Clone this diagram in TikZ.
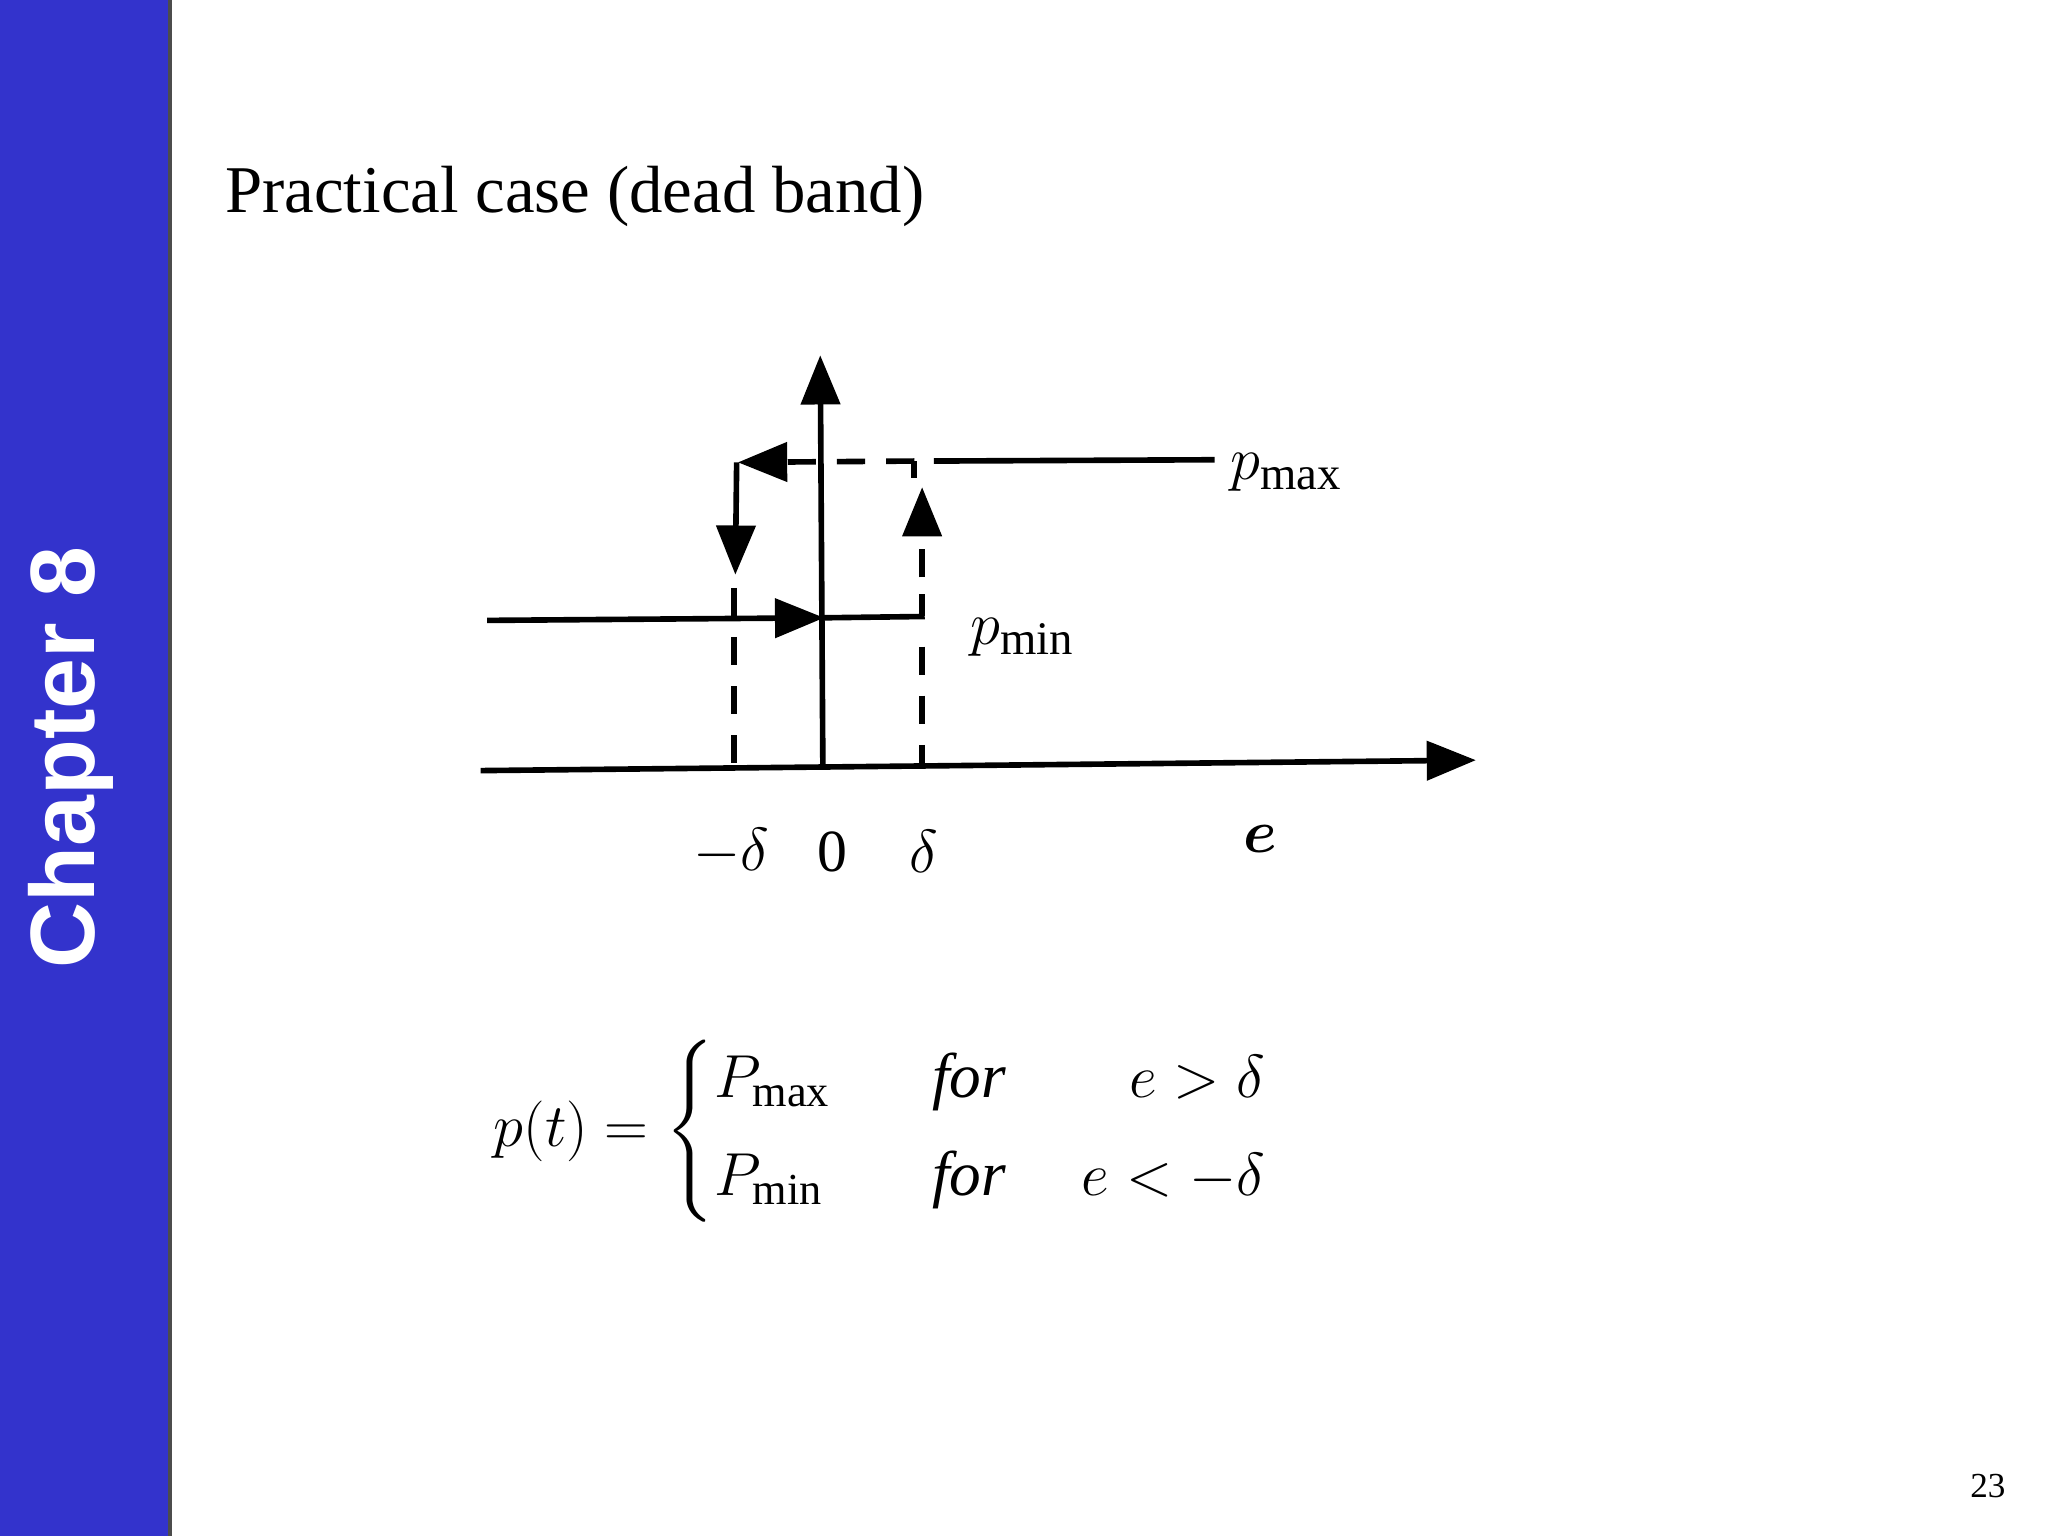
\documentclass[tikz,border=0pt]{standalone}
\usepackage{fontspec}
\setmainfont{Liberation Serif}
\setsansfont{Liberation Sans}
\usepackage{amsmath}
\usetikzlibrary{arrows.meta}
\definecolor{side}{HTML}{3333CC}
\begin{document}
\begin{tikzpicture}[x=0.013061cm,y=-0.013061cm,
  ln/.style={line width=1.6pt},
  dl/.style={line width=1.6pt,dash pattern=on 8pt off 6pt},
  tip/.style={-{Triangle[length=14pt,width=11pt]}},
  lab/.style={font=\fontsize{17}{20}\selectfont}]
\useasboundingbox (0,0) rectangle (1568,1176);
\fill[side] (0,0) rectangle (130,1176);
\draw[line width=1pt,black!70] (130,0) -- (130,1176);
\node[rotate=90,text=white,font=\sffamily\bfseries\fontsize{26}{30}\selectfont] (ch) at (54,580) {Chapter 8};
\node[anchor=base west,font=\fontsize{19}{22}\selectfont] (title) at (163,163) {Practical case (dead band)};
\node[font=\fontsize{10}{12}\selectfont] (pg) at (1522,1138) {23};
% axes
\coordinate (xa) at (368,590); \coordinate (xb) at (1130,582);
\draw[ln,tip] (xa) -- (xb);
\coordinate (ya) at (630,586); \coordinate (yb) at (628,272);
\draw[ln,tip] (ya) -- (yb);
% pmin branch
\coordinate (m1) at (373,475); \coordinate (m2) at (631,473); \coordinate (m3) at (708,472);
\draw[ln,tip] (m1) -- (m2);
\draw[ln] (m2) -- (m3);
\coordinate (u1) at (706,442); \coordinate (u2) at (706,373);
\draw[ln] (706,472) -- (706,455);
\draw[dl,tip] (u1) -- (u2);
\draw[dl] (706,495) -- (706,586);
% pmax branch
\coordinate (p1) at (930,352); \coordinate (p2) at (715,353);
\draw[ln] (p1) -- (p2);
\coordinate (p3) at (700,353); \coordinate (p4) at (565,354);
\draw[ln] (700,353) -- (700,366);
\draw[dl,tip] (p3) -- (p4);
\coordinate (d1) at (564,354); \coordinate (d2) at (563,440);
\draw[ln,tip] (d1) -- (d2);
\draw[dl] (562,450) -- (562,588);
% labels
\node[font=\fontsize{19}{22}\selectfont] (pmax) at (985,362) {$p_{\mathrm{max}}$};
\node[font=\fontsize{19}{22}\selectfont] (pmin) at (783,488) {$p_{\mathrm{min}}$};
\node[lab] (md) at (560,652) {$-\delta$};
\node[lab] (z) at (637,652) {0};
\node[lab] (dd) at (707,652) {$\delta$};
\node[font=\fontsize{19}{22}\selectfont] (e) at (965,642) {$\boldsymbol{e}$};
\node[font=\fontsize{18}{22}\selectfont] (eq) at (675,866) {$p(t)=\left\{\begin{array}{@{}l@{\hspace{1.6em}}l@{\hspace{1.2em}}r@{}} P_{\mathrm{max}} & \textit{for} & e>\delta\\[6pt] P_{\mathrm{min}} & \textit{for} & e<-\delta\end{array}\right.$};
\end{tikzpicture}
\end{document}
